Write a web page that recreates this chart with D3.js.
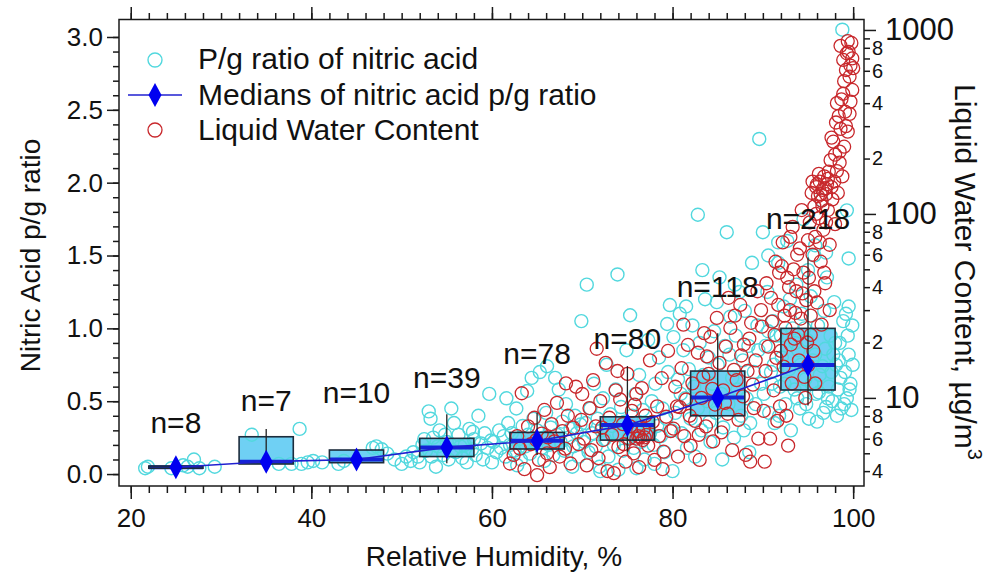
<!DOCTYPE html>
<html>
<head>
<meta charset="utf-8">
<script src="https://cdn.jsdelivr.net/npm/d3@7"></script>
<style>
  body { margin: 0; background: #fff; }
  svg { display: block; font-family: "Liberation Sans", Arial, sans-serif; }
</style>
</head>
<body>
<svg id="chart" width="1000" height="573"></svg>
<script>
// ---- RH bins (box plots of the nitric acid p/g ratio) ----
const binCenters = [25, 35, 45, 55, 65, 75, 85, 95];
const binCounts  = [8, 7, 10, 39, 78, 80, 118, 218];
const boxQ1      = [0.040, 0.069, 0.078, 0.120, 0.172, 0.233, 0.400, 0.577];
const boxMedian  = [0.047, 0.085, 0.100, 0.183, 0.229, 0.336, 0.526, 0.748];
const boxQ3      = [0.055, 0.256, 0.165, 0.245, 0.286, 0.393, 0.707, 1.000];
const whiskerLow  = [null, null, null, 0.075, 0.130, 0.153, 0.279, 0.470];
const whiskerHigh = [null, 0.310, null, 0.410, 0.420, 0.741, 0.966, 1.487];
const countLabelAt = [0.357, 0.508, 0.563, 0.666, 0.830, 0.933, 1.290, 1.757];

// ---- individual observations: [RH %, p/g ratio] ----
const ratioPoints = [
  [21.6,0.04],[21.9,0.05],[24.5,0.04],[25.8,0.06],[26.3,0.05],[27.0,0.10],[27.6,0.04],[29.3,0.05],
  [33.4,0.27],[36.4,0.07],[37.8,0.07],[38.7,0.31],[38.9,0.07],[39.6,0.08],[40.2,0.09],
  [41.2,0.08],[43.0,0.07],[43.6,0.09],[46.8,0.18],[47.2,0.19],[47.8,0.17],[48.4,0.14],[49.2,0.10],[50.0,0.07],[50.5,0.12],
  [51.0,0.09],[51.3,0.15],[51.8,0.12],[52.0,0.08],[52.3,0.20],[52.7,0.16],[53.0,0.43],[53.2,0.38],[53.5,0.25],[53.8,0.05],
  [54.0,0.19],[54.2,0.30],[54.6,0.13],[55.0,0.22],[55.2,0.10],[55.5,0.45],[55.8,0.35],[56.0,0.15],[56.3,0.27],[56.7,0.11],
  [57.0,0.20],[57.2,0.08],[57.5,0.31],[57.8,0.17],[58.0,0.24],[58.2,0.13],[58.5,0.40],[58.8,0.21],[59.0,0.10],[59.2,0.28],
  [59.5,0.18],[59.7,0.55],[59.9,0.23],[53.3,0.12],[54.8,0.27],[56.5,0.19],[52.5,0.24],[57.9,0.29],[55.7,0.16],
  [60.2,0.22],[60.5,0.15],[60.8,0.30],[61.0,0.18],[61.3,0.26],[61.5,0.12],[61.8,0.35],[62.0,0.20],[62.2,0.28],[62.5,0.16],
  [62.7,0.45],[63.0,0.24],[63.2,0.10],[63.4,0.33],[63.7,0.19],[64.0,0.27],[64.2,0.14],[64.4,0.66],[64.6,0.38],[64.8,0.22],
  [65.0,0.30],[65.3,0.70],[65.5,0.18],[65.7,0.25],[66.0,0.42],[66.1,0.74],[66.3,0.20],[66.5,0.32],[66.8,0.13],[67.0,0.66],
  [67.2,0.27],[67.4,0.58],[67.6,0.22],[67.8,0.36],[68.0,0.16],[68.2,0.48],[68.5,0.25],[68.7,0.31],[69.0,0.19],[69.2,0.40],
  [69.4,0.28],[69.6,0.12],[69.9,1.05],[69.8,0.34],[60.0,0.08],[62.8,0.06],[65.8,0.09],[68.9,0.05],[61.6,0.52],[63.9,0.57],
  [70.2,0.22],[70.4,0.35],[70.5,1.30],[70.7,0.15],[70.9,0.45],[71.1,0.28],[71.3,0.62],[71.5,0.19],[71.7,0.38],[71.9,0.05],
  [72.1,0.30],[72.3,0.52],[72.5,0.24],[72.7,0.75],[72.9,0.12],[73.1,0.41],[73.3,0.33],[73.5,0.20],[73.7,0.58],[73.9,1.37],
  [74.1,0.27],[74.3,0.46],[74.5,0.16],[74.7,0.36],[74.9,0.85],[75.1,0.25],[75.3,1.09],[75.5,0.40],[75.7,0.18],[75.9,0.55],
  [76.1,0.30],[76.3,0.68],[76.5,0.22],[76.7,0.44],[76.9,0.10],[77.1,0.35],[77.3,0.92],[77.5,0.28],[77.7,0.50],[77.9,0.20],
  [78.1,0.62],[78.3,0.33],[78.5,0.80],[78.7,0.26],[78.9,0.45],[79.1,0.15],[79.3,0.38],[79.5,0.70],[79.7,1.16],[79.9,0.30],
  [72.0,0.02],[74.0,0.03],[76.0,0.04],[78.0,0.07],[80.0,0.02],[79.4,1.03],[80.1,0.94],
  [80.3,0.42],[80.6,0.65],[80.8,1.10],[81.0,0.28],[81.2,0.85],[81.4,0.52],[81.6,0.18],[81.8,0.72],[82.0,0.38],[82.2,1.02],
  [82.4,0.60],[82.8,1.78],[82.8,0.45],[83.0,0.90],[83.2,0.30],[83.4,0.68],[83.6,1.20],[83.8,0.50],[84.0,0.80],[84.2,0.22],
  [84.4,0.62],[84.6,0.98],[84.8,0.42],[85.0,0.75],[85.2,1.35],[85.4,0.55],[85.6,0.32],[85.8,0.88],[86.0,1.66],[86.2,0.48],
  [86.4,1.08],[86.6,0.66],[86.8,0.25],[87.0,0.95],[87.2,0.58],[87.4,1.25],[87.6,0.40],[87.8,0.78],[88.0,1.12],[88.2,0.52],
  [88.4,0.88],[88.6,0.35],[88.8,1.45],[89.0,0.70],[89.2,0.48],[89.4,1.02],[89.6,2.30],[89.8,0.62],[81.5,1.15],[83.3,1.40],
  [84.9,1.18],[86.9,1.30],[88.5,0.15],[85.5,0.10],[82.5,0.12],[89.5,0.85],[87.9,0.30],[84.1,0.36],[86.3,0.82],[80.9,0.55],
  [90.0,1.66],[90.6,1.50],[91.7,1.59],
  [90.1,0.55],[90.3,0.88],[90.5,1.25],[90.7,0.42],[90.9,0.70],[91.1,1.05],[91.3,0.35],[91.5,0.95],[91.7,1.45],[91.9,0.60],
  [92.1,0.80],[92.3,1.15],[92.5,0.48],[92.7,1.60],[92.9,0.72],[93.1,0.30],[93.3,1.00],[93.5,0.58],[93.7,1.30],[93.9,0.85],
  [94.1,0.45],[94.3,1.10],[94.5,1.75],[94.7,0.65],[94.9,0.92],[95.1,0.38],[95.3,1.22],[95.5,0.78],[95.7,1.50],[95.9,0.55],
  [96.1,1.02],[96.3,0.68],[96.5,1.88],[96.7,0.42],[96.9,0.86],[97.1,1.35],[97.3,0.60],[97.5,0.95],[97.7,0.50],[97.9,1.18],
  [98.1,0.75],[98.3,0.58],[98.5,0.90],[98.7,0.45],[98.9,1.05],[99.1,0.70],[99.3,0.52],[99.5,0.82],[99.7,0.62],[99.9,1.02],
  [98.8,3.05],[98.2,0.40],[98.6,0.66],[99.0,0.48],[99.4,0.95],[99.8,0.44],[97.8,0.82],[97.2,0.52],[96.6,0.74],[96.0,0.36],
  [95.4,0.62],[94.8,0.48],[94.2,0.75],[93.6,0.90],[93.0,1.20],[92.4,0.62],[91.8,0.40],[91.2,0.75],[90.6,0.98],[99.2,1.10],
  [98.4,0.78],[97.6,0.70],[96.8,1.12],[96.2,0.56],[95.0,1.40],[93.8,0.52],[92.0,0.95],[91.0,0.62],[99.6,0.58],[98.0,0.90],
  [97.0,0.46],[95.8,0.82],[94.6,1.00],[99.95,0.75],[99.5,1.15],[99.3,1.81],[99.5,1.48],[97.0,1.52],[95.8,1.57]
];

// ---- liquid water content: [RH %, LWC µg/m³] ----
const lwcPoints = [
  [62.0,4.4],[62.4,4.9],[62.8,6.2],[63.1,5.3],[63.3,10.6],[63.6,4.1],[64.0,7.0],[64.3,5.6],[64.7,7.8],[65.0,3.8],
  [65.2,4.6],[65.5,6.4],[65.8,8.6],[66.1,5.0],[66.4,4.2],[66.6,7.2],[66.9,5.8],[67.2,9.4],[67.5,4.8],[67.8,6.6],
  [68.1,5.3],[68.4,8.0],[68.7,4.4],[69.0,6.9],[69.3,11.5],[69.6,5.6],[69.9,7.6],[64.9,5.9],[66.2,6.1],[68.2,12.0],
  [70.2,6.0],[70.5,4.3],[70.8,8.8],[71.0,5.2],[71.2,12.5],[71.5,7.0],[71.8,4.7],[72.0,9.6],[72.3,5.9],[72.6,15.5],
  [72.8,4.0],[73.0,7.8],[73.3,6.3],[73.5,3.9],[73.7,11.0],[74.0,5.4],[74.2,9.8],[74.5,7.2],[74.8,4.5],[75.0,13.5],
  [75.2,6.0],[75.5,8.5],[75.7,5.0],[76.0,10.5],[76.3,4.2],[76.6,11.3],[76.8,6.8],[77.0,8.0],[77.3,5.5],[77.5,16.0],
  [77.8,7.4],[78.0,4.6],[78.3,9.0],[78.5,6.2],[78.8,12.8],[79.0,5.1],[79.3,7.9],[79.5,18.0],[79.8,6.6],[70.0,10.5],
  [71.6,18.5],[73.9,14.0],[74.6,5.6],[75.3,7.0],[76.2,6.6],[76.9,6.1],[77.1,6.3],[78.9,4.1],[72.2,6.9],[75.8,9.2],
  [76.0,6.0],[76.4,6.1],[76.7,5.9],[76.2,6.2],
  [80.1,6.8],[80.3,11.5],[80.6,4.8],[80.8,8.9],[81.0,14.5],[81.3,6.2],[81.5,9.8],[81.7,19.4],[82.0,5.5],[82.2,12.0],
  [82.5,7.5],[82.8,17.6],[83.0,4.6],[83.2,10.0],[83.5,22.5],[83.7,7.0],[84.0,13.5],[84.2,21.5],[84.5,5.8],[84.7,9.2],
  [84.9,27.2],[85.2,15.5],[85.4,6.5],[85.6,11.0],[85.9,19.0],[86.1,8.2],[86.4,24.0],[86.6,5.2],[86.9,28.0],[87.1,12.5],
  [87.3,7.6],[87.6,17.0],[87.8,10.2],[88.1,4.9],[88.3,14.0],[88.5,21.0],[88.7,25.6],[89.0,8.8],[89.2,16.0],[89.5,6.0],
  [89.8,30.0],[89.9,24.4],[80.5,9.0],[81.9,8.0],[83.4,13.0],[84.4,11.2],[85.8,9.4],[86.8,14.2],[87.9,19.5],[88.9,11.8],
  [82.9,6.3],[86.2,35.0],[87.5,32.0],[88.6,4.5],[89.4,38.0],[83.8,16.8],[81.2,25.0],
  [90.1,8.5],[90.3,14.0],[90.4,42.0],[90.6,19.0],[90.8,6.0],[91.0,26.0],[91.2,11.0],[91.4,55.0],[91.5,16.5],[91.7,32.0],
  [91.9,9.0],[92.0,18.0],[92.2,70.0],[92.3,14.8],[92.5,24.0],[92.7,45.0],[92.8,5.5],[93.0,30.0],[93.2,12.0],[93.3,85.0],
  [93.5,21.0],[93.7,38.0],[93.8,60.0],[94.0,16.0],[94.2,27.0],[94.3,105.0],[94.5,48.0],[94.7,10.0],[94.8,34.0],[95.0,72.0],
  [90.9,35.0],[91.6,7.5],[92.4,28.0],[93.1,19.5],[93.9,22.0],[94.6,13.0],[92.9,40.0],[91.3,22.0],[94.1,65.0],[93.4,50.0],
  [90.2,4.5],[92.6,8.0],[94.9,20.0],[93.6,29.0],[91.8,48.0],[94.4,37.0],[92.1,52.0],[93.05,75.0],
  [95.1,45.0],[95.2,90.0],[95.3,28.0],[95.4,130.0],[95.5,60.0],[95.6,18.0],[95.7,110.0],[95.8,75.0],[95.9,140.0],[96.0,33.0],
  [96.1,125.0],[96.2,95.0],[96.3,150.0],[96.4,55.0],[96.5,118.0],[96.6,135.0],[96.7,82.0],[96.8,160.0],[96.9,42.0],[97.0,128.0],
  [97.1,145.0],[97.2,105.0],[97.3,170.0],[97.4,68.0],[97.5,196.0],[97.6,140.0],[97.7,120.0],[97.8,247.0],[97.9,150.0],[98.0,88.0],
  [98.1,314.0],[98.2,171.0],[98.3,130.0],[98.4,340.0],[98.5,218.0],[98.6,290.0],[98.7,420.0],[98.8,160.0],[98.9,687.0],[99.0,527.0],
  [99.1,360.0],[99.2,606.0],[99.3,747.0],[99.4,280.0],[99.5,760.0],[99.6,557.0],[99.7,408.0],[99.8,850.0],[99.9,472.0],[100.0,620.0],
  [95.5,150.0],[95.9,100.0],[96.2,165.0],[96.6,110.0],[96.9,138.0],[97.2,155.0],[96.4,128.0],[96.0,145.0],[95.7,38.0],[96.3,70.0],
  [97.0,90.0],[95.3,22.0],[98.5,190.0],[99.0,232.0],[99.2,300.0],[98.6,820.0],[99.4,870.0],[98.9,450.0],[99.6,350.0],[97.6,260.0],
  [98.0,210.0],[95.8,12.0],[96.8,48.0],[97.4,30.0],[95.0,15.0],[96.5,25.0],[99.9,700.0],[98.2,400.0],[99.7,640.0]
];

// ---- axis ticks ----
const rhLabelTicks   = [20, 40, 60, 80, 100];
const rhMinorTicks   = d3.range(20, 101, 2);
const ratioLabelTicks = [0, 0.5, 1.0, 1.5, 2.0, 2.5, 3.0];
const ratioMinorTicks = d3.range(0, 3.05, 0.1);
const lwcMajorTicks  = [10, 100, 1000];
const lwcMinorTicks  = [4,5,6,7,8,9, 20,30,40,50,60,70,80,90, 200,300,400,500,600,700,800,900];
const lwcMinorLabels = [4,6,8, 20,40,60,80, 200,400,600,800];

// ---- layout ----
const svg = d3.select("#chart");
const W = 1000, H = 573;
const plot = { left: 119, right: 864, top: 19.5, bottom: 486 };

svg.append("rect").attr("width", W).attr("height", H).attr("fill", "#fff");

const x  = d3.scaleLinear().domain([18.7, 101.2]).range([plot.left, plot.right]);
const yL = d3.scaleLinear().domain([-0.082, 3.12]).range([plot.bottom, plot.top]);
const yR = d3.scaleLog().domain([3.32, 1140]).range([plot.bottom, plot.top]);

const ink = "#1a1a1a";
const cyan = "#52d8de";
const red = "#c8282c";

svg.append("defs").append("clipPath").attr("id", "plotClip")
  .append("rect")
  .attr("x", plot.left).attr("y", plot.top)
  .attr("width", plot.right - plot.left).attr("height", plot.bottom - plot.top);

const bins = binCenters.map((c, i) => ({
  c, n: binCounts[i], q1: boxQ1[i], med: boxMedian[i], q3: boxQ3[i],
  lo: whiskerLow[i], hi: whiskerHigh[i], lab: countLabelAt[i]
}));
const halfWidth = 3; // box spans ±3 % RH around the bin centre

const g = svg.append("g").attr("clip-path", "url(#plotClip)");

// box fills
g.selectAll("rect.box").data(bins).join("rect")
  .attr("class", "box")
  .attr("x", d => x(d.c - halfWidth))
  .attr("width", d => x(d.c + halfWidth) - x(d.c - halfWidth))
  .attr("y", d => yL(d.q3))
  .attr("height", d => yL(d.q1) - yL(d.q3))
  .attr("fill", "#6fd0f4");

// scatter: p/g ratio
g.selectAll("circle.ratio").data(ratioPoints).join("circle")
  .attr("class", "ratio")
  .attr("cx", d => x(d[0])).attr("cy", d => yL(d[1])).attr("r", 6.5)
  .attr("fill", "none").attr("stroke", cyan).attr("stroke-width", 1.4);

// scatter: liquid water content
g.selectAll("circle.lwc").data(lwcPoints).join("circle")
  .attr("class", "lwc")
  .attr("cx", d => x(d[0])).attr("cy", d => yR(d[1])).attr("r", 6.5)
  .attr("fill", "none").attr("stroke", red).attr("stroke-width", 1.3);

// median bars inside the boxes
g.selectAll("line.medbar").data(bins).join("line")
  .attr("class", "medbar")
  .attr("x1", d => x(d.c - halfWidth)).attr("x2", d => x(d.c + halfWidth))
  .attr("y1", d => yL(d.med)).attr("y2", d => yL(d.med))
  .attr("stroke", "#1424d8").attr("stroke-width", 4);

// box outlines
g.selectAll("rect.outline").data(bins).join("rect")
  .attr("class", "outline")
  .attr("x", d => x(d.c - halfWidth))
  .attr("width", d => x(d.c + halfWidth) - x(d.c - halfWidth))
  .attr("y", d => yL(d.q3))
  .attr("height", d => yL(d.q1) - yL(d.q3))
  .attr("fill", "none").attr("stroke", "#1c2c3c").attr("stroke-width", 1.6);

// whiskers
g.selectAll("line.whisker").data(bins.filter(d => d.hi != null || d.lo != null)).join("line")
  .attr("class", "whisker")
  .attr("x1", d => x(d.c)).attr("x2", d => x(d.c))
  .attr("y1", d => yL(d.lo != null ? d.lo : d.q1))
  .attr("y2", d => yL(d.hi != null ? d.hi : d.q3))
  .attr("stroke", "#222").attr("stroke-width", 1.3);

// line through the medians
g.append("path")
  .datum(bins)
  .attr("d", d3.line().x(d => x(d.c)).y(d => yL(d.med)))
  .attr("fill", "none").attr("stroke", "#2020d0").attr("stroke-width", 1.6);

const diamond = (hw, hh) => `M0,${-hh}L${hw},0L0,${hh}L${-hw},0Z`;
g.selectAll("path.diamond").data(bins).join("path")
  .attr("class", "diamond")
  .attr("transform", d => `translate(${x(d.c)},${yL(d.med)})`)
  .attr("d", diamond(6.5, 12))
  .attr("fill", "#0000f0");

// count labels
svg.selectAll("text.count").data(bins).join("text")
  .attr("class", "count")
  .attr("x", d => x(d.c)).attr("y", d => yL(d.lab))
  .attr("text-anchor", "middle").attr("dominant-baseline", "central")
  .attr("font-size", 30).attr("fill", "#111")
  .text(d => `n=${d.n}`);

// ---- frame ----
svg.append("rect")
  .attr("x", plot.left).attr("y", plot.top)
  .attr("width", plot.right - plot.left).attr("height", plot.bottom - plot.top)
  .attr("fill", "none").attr("stroke", ink).attr("stroke-width", 1.5);

function styleAxis(sel) {
  sel.select(".domain").remove();
  sel.selectAll(".tick line").attr("stroke", ink).attr("stroke-width", 1.5);
  sel.selectAll(".tick text").attr("fill", "#111").attr("font-family", '"Liberation Sans", Arial, sans-serif');
}

// bottom axis
svg.append("g").attr("transform", `translate(0,${plot.bottom})`)
  .call(d3.axisBottom(x).tickValues(rhMinorTicks).tickSize(7).tickFormat(""))
  .call(styleAxis);
svg.append("g").attr("transform", `translate(0,${plot.bottom})`)
  .call(d3.axisBottom(x).tickValues(rhLabelTicks).tickSize(13).tickPadding(10).tickFormat(d3.format("d")))
  .call(styleAxis)
  .call(s => s.selectAll(".tick text").attr("font-size", 26));

// top axis (ticks only)
svg.append("g").attr("transform", `translate(0,${plot.top})`)
  .call(d3.axisTop(x).tickValues(rhMinorTicks).tickSize(6.5).tickFormat(""))
  .call(styleAxis);
svg.append("g").attr("transform", `translate(0,${plot.top})`)
  .call(d3.axisTop(x).tickValues(rhLabelTicks).tickSize(12.5).tickFormat(""))
  .call(styleAxis);

// left axis
svg.append("g").attr("transform", `translate(${plot.left},0)`)
  .call(d3.axisLeft(yL).tickValues(ratioMinorTicks).tickSize(6).tickFormat(""))
  .call(styleAxis);
svg.append("g").attr("transform", `translate(${plot.left},0)`)
  .call(d3.axisLeft(yL).tickValues(ratioLabelTicks).tickSize(12).tickPadding(4).tickFormat(d3.format(".1f")))
  .call(styleAxis)
  .call(s => s.selectAll(".tick text").attr("font-size", 26));

// right axis (log)
svg.append("g").attr("transform", `translate(${plot.right},0)`)
  .call(d3.axisRight(yR).tickValues(lwcMinorTicks).tickSize(6).tickPadding(2)
        .tickFormat(d => lwcMinorLabels.includes(d) ? String(d).charAt(0) : ""))
  .call(styleAxis)
  .call(s => s.selectAll(".tick text").attr("font-size", 20));
svg.append("g").attr("transform", `translate(${plot.right},0)`)
  .call(d3.axisRight(yR).tickValues(lwcMajorTicks).tickSize(12).tickPadding(9).tickFormat(d3.format("d")))
  .call(styleAxis)
  .call(s => s.selectAll(".tick text").attr("font-size", 31));

// axis titles
svg.append("text")
  .attr("x", (x(20) + x(100)) / 2 + 2).attr("y", 556)
  .attr("text-anchor", "middle").attr("dominant-baseline", "central")
  .attr("font-size", 28).attr("fill", "#111")
  .text("Relative Humidity, %");

svg.append("text")
  .attr("transform", `translate(40,${(yL(0) + yL(3)) / 2}) rotate(-90)`)
  .attr("text-anchor", "middle")
  .attr("font-size", 28).attr("fill", "#111")
  .text("Nitric Acid p/g ratio");

const rTitle = svg.append("text")
  .attr("transform", `translate(955,272) rotate(90)`)
  .attr("text-anchor", "middle")
  .attr("font-size", 30).attr("fill", "#111");
rTitle.append("tspan").text("Liquid Water Content, µg/m");
rTitle.append("tspan").attr("dy", -13).attr("font-size", 20).text("3");

// ---- legend ----
const legend = svg.append("g");
const lx = 155, tx = 198;
const rows = [58, 94, 129];
legend.append("circle").attr("cx", lx).attr("cy", rows[0] + 2).attr("r", 7)
  .attr("fill", "none").attr("stroke", cyan).attr("stroke-width", 1.4);
legend.append("line").attr("x1", lx - 27).attr("x2", lx + 27).attr("y1", rows[1] + 1).attr("y2", rows[1] + 1)
  .attr("stroke", "#2020d0").attr("stroke-width", 1.6);
legend.append("path").attr("transform", `translate(${lx},${rows[1] + 1})`).attr("d", diamond(6.5, 12)).attr("fill", "#0000f0");
legend.append("circle").attr("cx", lx).attr("cy", rows[2] + 1).attr("r", 7)
  .attr("fill", "none").attr("stroke", red).attr("stroke-width", 1.3);
const legendText = ["P/g ratio of nitric acid", "Medians of nitric acid p/g ratio", "Liquid Water Content"];
legend.selectAll("text").data(legendText).join("text")
  .attr("x", tx).attr("y", (d, i) => rows[i])
  .attr("dominant-baseline", "central")
  .attr("font-size", 30).attr("fill", "#111")
  .text(d => d);
</script>
</body>
</html>
